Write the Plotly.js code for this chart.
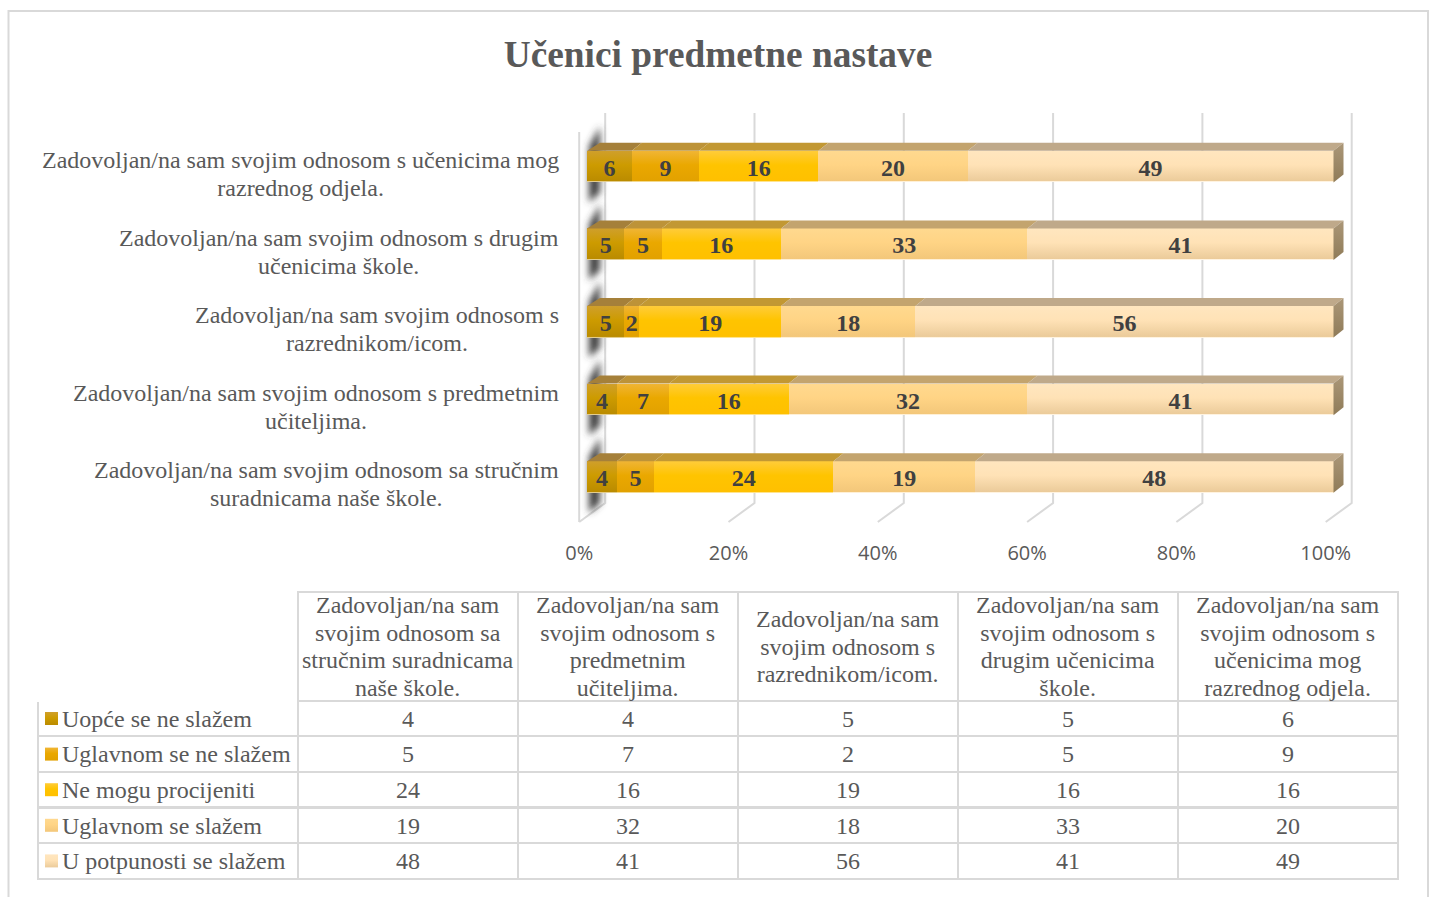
<!DOCTYPE html>
<html><head><meta charset="utf-8">
<script src="https://cdn.plot.ly/plotly-3.0.1.min.js"></script>
<style>html,body{margin:0;padding:0;background:#fff;overflow:hidden}</style>
</head><body><div id="chart" style="width:1432px;height:897px"></div>
<script>
const categories = [
 "Zadovoljan/na sam svojim odnosom sa stručnim<br>suradnicama naše škole.",
 "Zadovoljan/na sam svojim odnosom s predmetnim<br>učiteljima.",
 "Zadovoljan/na sam svojim odnosom s<br>razrednikom/icom.",
 "Zadovoljan/na sam svojim odnosom s drugim<br>učenicima škole.",
 "Zadovoljan/na sam svojim odnosom s učenicima mog<br>razrednog odjela."
];
const tableHeaders = [
 "Zadovoljan/na sam<br>svojim odnosom sa<br>stručnim suradnicama<br>naše škole.",
 "Zadovoljan/na sam<br>svojim odnosom s<br>predmetnim<br>učiteljima.",
 "Zadovoljan/na sam<br>svojim odnosom s<br>razrednikom/icom.",
 "Zadovoljan/na sam<br>svojim odnosom s<br>drugim učenicima<br>škole.",
 "Zadovoljan/na sam<br>svojim odnosom s<br>učenicima mog<br>razrednog odjela."
];
const seriesNames = ["Uopće se ne slažem","Uglavnom se ne slažem","Ne mogu procijeniti","Uglavnom se slažem","U potpunosti se slažem"];
const uopce = [4,4,5,5,6];
const uglavnomNe = [5,7,2,5,9];
const neMogu = [24,16,19,16,16];
const uglavnomDa = [19,32,18,33,20];
const potpuno = [48,41,56,41,49];
const tickValues = [0,20,40,60,80,100];
const seriesValues = [uopce,uglavnomNe,neMogu,uglavnomDa,potpuno];

const frontCol = ["#ba8b00","#e2a100","#ffc000","#f3c77a","#ebcb9a"];
const gradTop  = ["#cf9f2c","#f0b535","#ffcc3a","#ffd98f","#ffe6bf"];
const gradMid  = ["#cd9b00","#eaa800","#ffc400","#ffd485","#ffe2b6"];
const rimCol   = ["#e3cd8e","#f3d98e","#ffe48e","#fff0d6","#fff3e0"];
const topCol   = ["#a5803a","#bd9338","#c29833","#c3a46e","#bfa98a"];
const serif = "'Liberation Serif','Times New Roman',serif";
const GREY = "#d9d9d9";
const LINE_EM = 1.146, FS = 24;

const W=1432,H=897;
const pxPerPct=7.465, x0px=587, floorX0=579.2, L=575, R=1360, T=100, B=530, rowPx=77.6, y0px=477;
const xr=[(L-x0px)/pxPerPct,(R-x0px)/pxPerPct];
const x2r=[(L-floorX0)/pxPerPct,(R-floorX0)/pxPerPct];
const yr=[(y0px-B)/rowPx,(y0px-T)/rowPx];
const ys=categories.map((_,i)=>i);
const barH=31.6/rowPx, dX=10/pxPerPct, dY=8/rowPx;

const traces=seriesValues.map((v,s)=>({
  type:"bar",orientation:"h",name:seriesNames[s],x:v,y:ys,width:barH,
  marker:{color:frontCol[s],line:{width:0}},
  text:v.map(String),textposition:"inside",insidetextanchor:"middle",textangle:0,constraintext:"none",
  insidetextfont:{family:serif,size:24,color:"#404040",weight:700},
  hoverinfo:"skip",showlegend:false
}));
traces.push({type:"scatter",mode:"markers",x:[0,100],y:[0,0],xaxis:"x2",yaxis:"y",marker:{opacity:0},hoverinfo:"skip",showlegend:false});

const firstCol=seriesNames.map(n=>"\u00a0\u00a0\u2006"+n.replace(/ /g,"\u00a0"));
const colVals=[firstCol].concat(categories.map((_,c)=>seriesValues.map(v=>String(v[c]))));
traces.push({
  type:"table",
  domain:{x:[38/W,1398/W],y:[1-881/H,1-592/H]},
  columnwidth:[260,220,220,220,220,220],
  header:{values:["","","","","",""],height:108.7,align:"center",
    line:{color:["#ffffff",GREY,GREY,GREY,GREY,GREY],width:2},fill:{color:"#fff"},
    font:{family:serif,size:FS,color:"#595959"}},
  cells:{values:colVals,height:35.6,align:["left","center","center","center","center","center"],
    line:{color:GREY,width:2},fill:{color:"#fff"},
    font:{family:serif,size:FS,color:"#595959"}}
});

const shapes=[];
const poly=pts=>"M"+pts.map(p=>p[0]+","+p[1]).join("L")+"Z";
const line=pts=>"M"+pts.map(p=>p[0]+","+p[1]).join("L");
shapes.push({type:"rect",xref:"paper",yref:"paper",x0:8.5/W,x1:1428/W,y0:-10/H,y1:1-11/H,line:{color:GREY,width:2},fillcolor:"rgba(0,0,0,0)",layer:"below"});
const yFloorFront=(y0px-522)/rowPx,yFloorBack=(y0px-503)/rowPx,yTopBack=(y0px-113)/rowPx,yTopFront=(y0px-132)/rowPx,depth=26/pxPerPct;
tickValues.forEach(t=>{
  shapes.push({type:"path",xref:"x2",yref:"y",layer:"below",line:{color:GREY,width:2},
    path:line([[t,yFloorFront],[t+depth,yFloorBack],[t+depth,yTopBack]])});
});
shapes.push({type:"path",xref:"x2",yref:"y",layer:"below",line:{color:GREY,width:2},path:line([[0,yFloorFront],[0,yTopFront]])});
ys.forEach(i=>{
  const a=1/pxPerPct;
  shapes.push({type:"path",xref:"x",yref:"y",layer:"below",fillcolor:"#404040",line:{width:0},name:"shadow",
    path:poly([[2*a,i+20/rowPx],[13*a,i+40/rowPx],[13*a,i-26/rowPx],[2*a,i-36/rowPx]])});
});
ys.forEach(i=>{
  let cum=0;
  seriesValues.forEach((v,s)=>{
    const a=cum,b=cum+v[i];cum=b;
    const yF=i+barH/2,yB=yF+dY;
    const backA=(s===0)?a+13/pxPerPct:a+dX;
    shapes.push({type:"path",xref:"x",yref:"y",layer:"above",fillcolor:topCol[s],line:{width:0},
      path:poly([[a,yF],[b,yF],[b+dX,yB],[backA,yB]])});
  });
  shapes.push({type:"path",xref:"x",yref:"y",layer:"above",fillcolor:"#a18d6e",line:{width:0},name:"end",
    path:poly([[cum,i+barH/2],[cum+dX,i+barH/2+dY],[cum+dX,i-barH/2+dY],[cum,i-barH/2]])});
});
seriesNames.forEach((n,s)=>{
  const top=712+s*35.6;
  shapes.push({type:"rect",xref:"paper",yref:"paper",x0:45/W,x1:58/W,y0:1-(top+13)/H,y1:1-top/H,fillcolor:frontCol[s],line:{width:0},layer:"above"});
});

const lineFix=txt=>((txt.split("<br>").length-1)*(1.3-LINE_EM)*FS)/2;
const annotations=categories.map((c,i)=>({xref:"paper",yref:"y",x:560.5/W,y:i-7/rowPx,yshift:-lineFix(c),xanchor:"right",yanchor:"middle",align:"center",showarrow:false,text:c,font:{family:serif,size:FS,color:"#595959"}}));
const colX=[298,518,738,958,1178];
tableHeaders.forEach((t,c)=>annotations.push({xref:"paper",yref:"paper",x:(colX[c]+110)/W,y:1-646/H,yshift:-lineFix(t),xanchor:"center",yanchor:"middle",align:"center",showarrow:false,text:t,font:{family:serif,size:FS,color:"#595959"}}));

const layout={
  width:W,height:H,margin:{l:0,r:0,t:0,b:0},paper_bgcolor:"#fff",plot_bgcolor:"rgba(0,0,0,0)",
  barmode:"stack",showlegend:false,
  title:{text:"Učenici predmetne nastave",x:718/W,xanchor:"center",y:1-54/H,yanchor:"middle",font:{family:serif,size:37.35,color:"#595959",weight:700}},
  xaxis:{domain:[L/W,R/W],range:xr,showgrid:false,zeroline:false,showline:false,showticklabels:false,ticks:""},
  xaxis2:{domain:[L/W,R/W],range:x2r,overlaying:"x",anchor:"y",side:"bottom",showgrid:false,zeroline:false,showline:false,
    tickvals:tickValues,ticktext:tickValues.map(t=>t+"%"),ticks:"outside",ticklen:5,tickcolor:"rgba(0,0,0,0)",
    tickfont:{family:"'Open Sans',sans-serif",size:20,color:"#595959"}},
  yaxis:{domain:[1-B/H,1-T/H],range:yr,showgrid:false,zeroline:false,showline:false,showticklabels:false,ticks:""},
  shapes:shapes,annotations:annotations
};

Plotly.newPlot("chart",traces,layout,{displayModeBar:false}).then(gd=>{
  const svg=gd.querySelector(".main-svg");
  const NS="http://www.w3.org/2000/svg";
  const defs=document.createElementNS(NS,"defs");
  const mk=(id,stops)=>{const g=document.createElementNS(NS,"linearGradient");g.setAttribute("id",id);g.setAttribute("x1","0");g.setAttribute("y1","0");g.setAttribute("x2","0");g.setAttribute("y2","1");
    stops.forEach(st=>{const e=document.createElementNS(NS,"stop");e.setAttribute("offset",st[0]);e.setAttribute("stop-color",st[1]);g.appendChild(e);});defs.appendChild(g);};
  frontCol.forEach((c,s)=>{mk("grad"+s,[[0,gradTop[s]],[0.45,gradMid[s]],[0.965,c],[0.97,rimCol[s]],[1,rimCol[s]]]);mk("key"+s,[[0,gradTop[s]],[0.45,gradMid[s]],[1,c]]);});
  mk("gradEnd",[[0,"#ab9778"],[1,"#8f7b58"]]);
  const f=document.createElementNS(NS,"filter");f.setAttribute("id","blurShadow");f.setAttribute("x","-100%");f.setAttribute("width","300%");f.setAttribute("y","-50%");f.setAttribute("height","200%");
  const b=document.createElementNS(NS,"feGaussianBlur");b.setAttribute("stdDeviation","3.5");f.appendChild(b);defs.appendChild(f);
  svg.insertBefore(defs,svg.firstChild);
  const rgb=h=>{const n=parseInt(h.slice(1),16);return "rgb("+(n>>16)+", "+((n>>8)&255)+", "+(n&255)+")";};
  const idx={};frontCol.forEach((c,s)=>idx[rgb(c)]=s);
  const end=rgb("#a18d6e"),shad=rgb("#404040");
  gd.querySelectorAll(".barlayer .point path").forEach(p=>{const s=idx[p.style.fill];if(s!==undefined)p.style.fill="url(#grad"+s+")";});
  gd.querySelectorAll(".shapelayer path").forEach(p=>{
    const fl=p.style.fill;
    if(idx[fl]!==undefined) p.style.fill="url(#key"+idx[fl]+")";
    else if(fl===end) p.style.fill="url(#gradEnd)";
    else if(fl===shad) p.setAttribute("filter","url(#blurShadow)");
  });
  gd.querySelectorAll(".annotation-text tspan.line").forEach(t=>{const d=t.getAttribute("dy");if(d&&parseFloat(d)!==0)t.setAttribute("dy",(parseFloat(d)/1.3*LINE_EM)+"em");});
  gd.querySelectorAll(".bartext").forEach(t=>{t.setAttribute("transform",(t.getAttribute("transform")||"")+" translate(0,1.2)");});
});
</script></body></html>
